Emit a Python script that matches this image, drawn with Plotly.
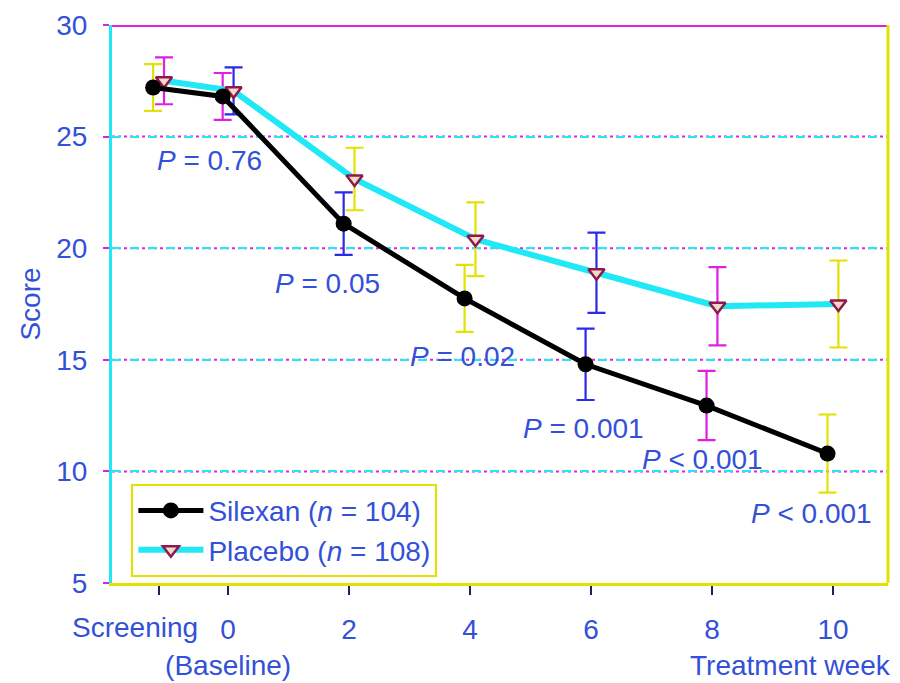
import plotly.graph_objects as go

# ---- data ----
tick_vals = [-1.15, 0, 2, 4, 6, 8, 10]
tick_text = ["", "0<br>(Baseline)", "2", "4", "6", "8", "10"]
screening_label = "Screening"
silexan_mean = [27.2, 26.8, 21.1, 17.75, 14.8, 12.95, 10.8]
silexan_err = [1.05, 1.05, 1.4, 1.5, 1.6, 1.55, 1.75]
placebo_mean = [27.5, 27.05, 23.1, 20.4, 18.9, 17.4, 17.5]
placebo_err = [1.05, 1.05, 1.4, 1.65, 1.8, 1.75, 1.95]
p_labels = ["<i>P</i> = 0.76", "<i>P</i> = 0.05", "<i>P</i> = 0.02", "<i>P</i> = 0.001",
            "<i>P</i> < 0.001", "<i>P</i> < 0.001"]
y_ticks = [5, 10, 15, 20, 25, 30]

# ---- style ----
FONT = "Liberation Sans, Arial, sans-serif"
TXT = "#3350d8"
YEL, MAG, BLU, CYA = "#e2e200", "#e020e0", "#2a2ae8", "#20e8f4"
sil_err_colors = [YEL, MAG, BLU, YEL, BLU, MAG, YEL]
pla_err_colors = [MAG, BLU, YEL, YEL, BLU, MAG, YEL]
DODGE = 0.09
FS = 28


def f(size=FS):
    return dict(family=FONT, size=size, color=TXT)


sil_x = [v - DODGE for v in tick_vals]
pla_x = [v + DODGE for v in tick_vals]

fig = go.Figure()

# error bars (one trace per point so each can have its own colour)
for xs, ys, es, cs in [(pla_x, placebo_mean, placebo_err, pla_err_colors),
                       (sil_x, silexan_mean, silexan_err, sil_err_colors)]:
    for xi, yi, ei, ci in zip(xs, ys, es, cs):
        fig.add_trace(go.Scatter(
            x=[xi], y=[yi], mode="lines", showlegend=False, hoverinfo="skip",
            line=dict(color="rgba(0,0,0,0)"),
            error_y=dict(type="data", array=[ei], color=ci, thickness=2.2, width=9)))

fig.add_trace(go.Scatter(
    x=pla_x, y=placebo_mean, mode="lines+markers",
    name="Placebo (<i>n</i> = 108)",
    line=dict(color=CYA, width=6),
    marker=dict(symbol="triangle-down", size=14, color="#f0dcc0",
                line=dict(color="#901850", width=2.5))))

fig.add_trace(go.Scatter(
    x=sil_x, y=silexan_mean, mode="lines+markers",
    name="Silexan (<i>n</i> = 104)",
    line=dict(color="#000000", width=5),
    marker=dict(symbol="circle", size=16, color="#000000")))

# extra dotted magenta grid overlay + frame lines
shapes = []
for yv in y_ticks[1:-1]:
    shapes.append(dict(type="line", xref="paper", x0=0, x1=1, yref="y", y0=yv, y1=yv,
                       line=dict(color=MAG, width=2, dash="dot"), layer="below"))
shapes.append(dict(type="line", xref="paper", x0=0, x1=1, yref="y", y0=30, y1=30,
                   line=dict(color=MAG, width=4)))
shapes.append(dict(type="line", xref="paper", x0=1, x1=1, yref="paper", y0=0, y1=1,
                   line=dict(color=YEL, width=3)))

annots = []
p_pos = [(-0.30, 23.93), (1.64, 18.40), (3.87, 15.16), (5.87, 11.92), (7.85, 10.53), (9.64, 8.10)]
for lab, (ax_, ay_) in zip(p_labels, p_pos):
    annots.append(dict(x=ax_, y=ay_, xref="x", yref="y", text=lab, showarrow=False, font=f()))
annots.append(dict(x=tick_vals[0], y=-0.079, xref="x", yref="paper", text=screening_label,
                   showarrow=False, xanchor="center", yanchor="middle", xshift=-24, font=f()))
annots.append(dict(x=1.007, y=-0.147, xref="paper", yref="paper", text="Treatment week",
                   showarrow=False, xanchor="right", yanchor="middle", font=f()))

# page has an 8px body margin, so the figure is drawn 8px smaller and shifted
fig.update_layout(
    width=892, height=675,
    margin=dict(l=104, r=12, t=17, b=100),
    paper_bgcolor="white", plot_bgcolor="white",
    font=f(),
    shapes=shapes, annotations=annots,
    legend=dict(x=0.025, y=0.178, xanchor="left", yanchor="top",
                traceorder="reversed",
                bgcolor="white", bordercolor=YEL, borderwidth=2,
                font=f(), itemwidth=65, tracegroupgap=0),
    xaxis=dict(range=[-1.92, 10.91], tickmode="array", tickvals=tick_vals, ticktext=tick_text,
               tickangle=0, automargin=False,
               showgrid=False, zeroline=False, showline=True, linecolor=YEL, linewidth=3,
               ticks="outside", ticklen=9, tickwidth=2, tickcolor="#202060",
               ticklabelstandoff=10, tickfont=f()),
    yaxis=dict(range=[5, 30], tickmode="array", tickvals=y_ticks, automargin=False,
               showgrid=True, gridcolor=CYA, griddash="dash", gridwidth=2,
               zeroline=False, showline=True, linecolor=CYA, linewidth=3,
               ticks="outside", ticklen=6, tickwidth=2, tickcolor=MAG,
               ticklabelstandoff=10, tickfont=f(),
               title=dict(text="Score", standoff=8, font=f(28))),
)

fig.write_html("out.html")
